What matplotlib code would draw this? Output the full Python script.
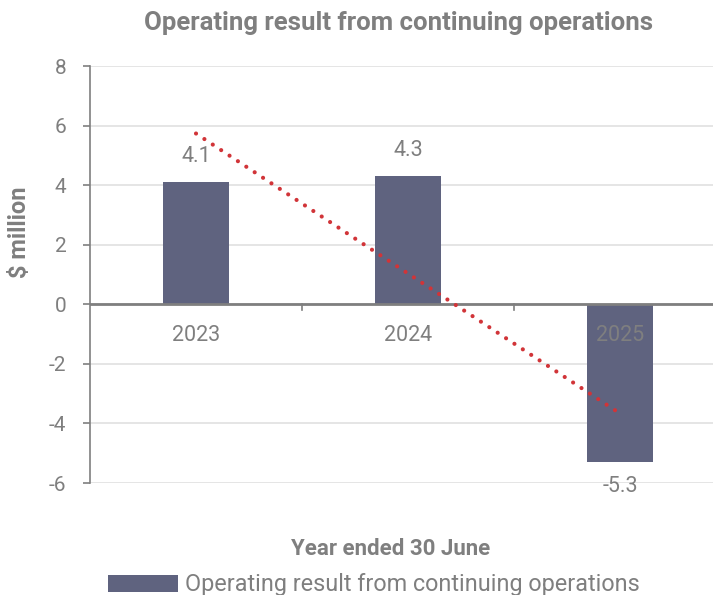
import matplotlib
matplotlib.use("Agg")
import matplotlib.pyplot as plt
import numpy as np

categories = ["2023", "2024", "2025"]
values = [4.1, 4.3, -5.3]
series_name = "Operating result from continuing operations"
title = "Operating result from continuing operations"
y_ticks = [-6, -4, -2, 0, 2, 4, 6, 8]

plt.rcParams['font.family'] = ['Roboto', 'DejaVu Sans']
gray = "#7f7f7f"
bar_color = "#5f637f"
trend_color = "#d13438"

fig = plt.figure(figsize=(7.13, 5.95), dpi=100)
W, H = 713, 595
left_px, right_px, top_px, bot_px = 90, 726, 66, 483
ax = fig.add_axes([left_px / W, 1 - bot_px / H, (right_px - left_px) / W, (bot_px - top_px) / H])

x = np.arange(len(categories))
ax.bar(x, values, width=0.31, color=bar_color, zorder=2, label=series_name)

# linear trendline
coef = np.polyfit(x, values, 1)
trend = np.polyval(coef, x)
ax.plot(x, trend, linestyle=(0, (0.01, 2.4)), color=trend_color, linewidth=3.0,
        dash_capstyle='round', zorder=3)

ax.set_xlim(-0.5, 2.5)
ax.set_ylim(-6, 8)
ax.set_yticks(y_ticks)
ax.set_yticklabels([str(t) for t in y_ticks], fontsize=15, color=gray)
ax.tick_params(axis='y', length=5, color=gray, width=1.2, pad=12)
ax.grid(axis='y', color="#e3e3e3", linewidth=1.3, zorder=0)
ax.set_axisbelow(True)

for s in ["top", "right", "bottom"]:
    ax.spines[s].set_visible(False)
ax.spines["left"].set_color(gray)
ax.spines["left"].set_linewidth(1.2)

# zero axis line with category boundary ticks
ax.axhline(0, color=gray, linewidth=2, zorder=2.5)
ax.set_xticks([])
for b in [0.5, 1.5]:
    ax.plot([b, b], [0, -0.2], color=gray, linewidth=1.2, zorder=2.5, clip_on=False)

# category labels just below zero line
for xi, c in zip(x, categories):
    ax.text(xi, -1.05, c, ha='center', va='center', fontsize=15.5, color=gray, zorder=4)

# data labels
for xi, v in zip(x, values):
    if v >= 0:
        ax.text(xi, v + 0.5, f"{v:.1f}", ha='center', va='bottom', fontsize=15.5, color=gray)
    else:
        ax.text(xi, v - 0.45, f"{v:.1f}", ha='center', va='top', fontsize=15.5, color=gray)

fig.text(399 / W, 1 - 23 / H, title, ha='center', va='center', fontsize=18.5,
         fontweight='bold', color=gray)
fig.text(20 / W, 1 - 232 / H, "$ million", ha='center', va='center', rotation=90,
         fontsize=17, fontweight='bold', color=gray)
fig.text(391 / W, 1 - 549 / H, "Year ended 30 June", ha='center', va='center',
         fontsize=16, fontweight='bold', color=gray)

handles, labels = ax.get_legend_handles_labels()
leg = fig.legend(handles, labels, loc='center', bbox_to_anchor=(374 / W, 1 - 585 / H),
                 frameon=False, fontsize=16.8, handlelength=3.0, handleheight=0.7,
                 handletextpad=0.3, labelcolor=gray)

fig.savefig("out.png", dpi=100)
